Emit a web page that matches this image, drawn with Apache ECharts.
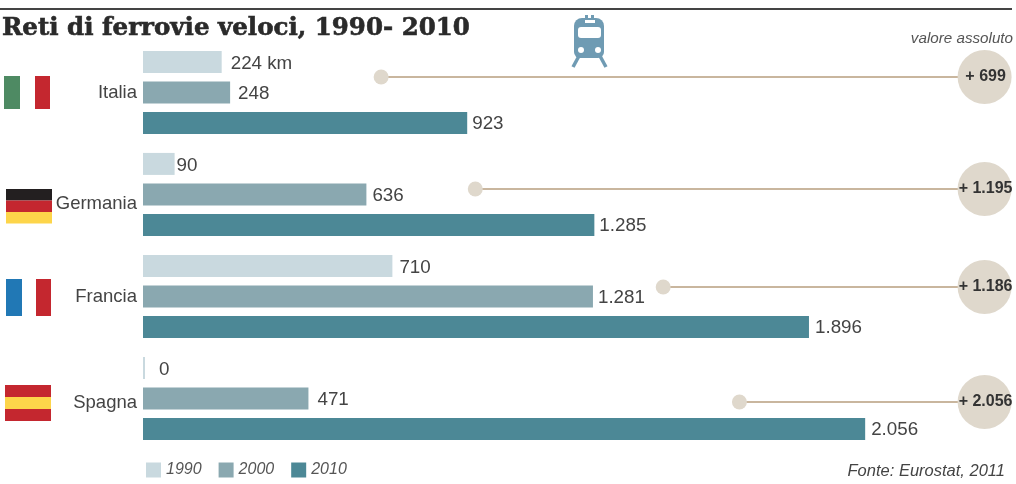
<!DOCTYPE html>
<html>
<head>
<meta charset="utf-8">
<title>Reti di ferrovie veloci, 1990-2010</title>
<script src="https://cdn.jsdelivr.net/npm/echarts@6/dist/echarts.min.js"></script>
<style>
  html, body { margin: 0; padding: 0; background: #fff; }
  #chart { width: 1016px; height: 484px; }
</style>
</head>
<body>
<div id="chart"></div>
<script>
// High-speed rail network length per country, km
const countries = ['Italia', 'Germania', 'Francia', 'Spagna'];
const years = ['1990', '2000', '2010'];
const km1990 = [224, 90, 710, 0];
const km2000 = [248, 636, 1281, 471];
const km2010 = [923, 1285, 1896, 2056];
const gain = [699, 1195, 1186, 2056];

// Where each gain connector starts on the km axis, and the row height it sits at
const connectorStart = [678, 946, 1481, 1698];
const connectorRow = [0.348, 1.446, 2.407, 3.534];

const palette = ['#c9d9df', '#8aa8b0', '#4c8896'];
const inkColor = '#444';
const sans = '"Liberation Sans", Arial, sans-serif';
const bubbleAt = 2396;

// Italian thousands separator: 1285 -> 1.285
const fmt = v => String(v).replace(/\B(?=(\d{3})+$)/g, '.');

// Space between each bar end and its value, per year then country
const labelGaps = [[9, 2, 7, 14], [8, 6, 5, 9], [5, 5, 6, 6]];
const labelDrop = [2, 1, 1];

const barSeries = [km1990, km2000, km2010].map((values, s) => ({
  name: years[s],
  type: 'bar',
  barWidth: 22,
  barGap: '39%',
  barMinHeight: s === 0 ? 2 : 0,
  itemStyle: { color: palette[s] },
  data: values.map((v, i) => ({
    value: v,
    label: {
      show: true,
      position: 'right',
      distance: labelGaps[s][i],
      offset: [0, labelDrop[s]],
      color: inkColor,
      fontFamily: sans,
      fontSize: 18.8,
      formatter: () => fmt(v) + (s === 0 && i === 0 ? ' km' : '')
    }
  }))
}));

// Connector from the start dot to the bubble holding the total gain
const gainSeries = {
  type: 'custom',
  xAxisIndex: 0,
  yAxisIndex: 1,
  data: countries.map((c, i) => [connectorStart[i], bubbleAt, connectorRow[i], gain[i]]),
  encode: { x: [0, 1], y: 2 },
  silent: true,
  renderItem(params, api) {
    const from = api.coord([api.value(0), api.value(2)]);
    const to = api.coord([api.value(1), api.value(2)]);
    return {
      type: 'group',
      children: [
        { type: 'line', shape: { x1: from[0], y1: from[1], x2: to[0], y2: to[1] },
          style: { stroke: '#c9b69e', lineWidth: 2 } },
        { type: 'circle', shape: { cx: from[0], cy: from[1], r: 7.5 }, style: { fill: '#dfd8cc' } },
        { type: 'circle', shape: { cx: to[0], cy: to[1], r: 27 }, style: { fill: '#dfd8cc' } },
        { type: 'text', style: {
            x: to[0] + 1, y: to[1], text: '+ ' + fmt(api.value(3)),
            align: 'center', verticalAlign: 'middle',
            font: 'bold 16px ' + sans, fill: '#333'
        } }
      ]
    };
  }
};

const rect = (x, y, width, height, fill) => ({
  type: 'rect', shape: { x, y, width, height }, style: { fill }, silent: true
});
const trainBlue = '#6f9bb3';
const trainLeg = (x1, x2) => ({
  type: 'line', silent: true, shape: { x1, y1: 56, x2, y2: 67 },
  style: { stroke: trainBlue, lineWidth: 3.5 }
});

const chart = echarts.init(document.getElementById('chart'), null, { renderer: 'canvas' });
chart.setOption({
  animation: false,
  backgroundColor: '#fff',
  title: {
    text: 'Reti di ferrovie veloci, 1990- 2010',
    left: 2, top: 16, padding: 0,
    textStyle: {
      fontFamily: '"DejaVu Serif", serif', fontWeight: 'bold', fontSize: 24.5,
      color: '#2a2a2a', textBorderColor: '#2a2a2a', textBorderWidth: 0.6
    }
  },
  legend: {
    data: years,
    left: 141, top: 457,
    itemWidth: 15, itemHeight: 15, itemGap: 17,
    icon: 'rect',
    textStyle: { fontFamily: sans, fontStyle: 'italic', fontSize: 16, color: '#555', padding: [0, 0, 0, 0] },
    selectedMode: false
  },
  grid: { left: 143, right: 30, top: 41.5, height: 408 },
  xAxis: { type: 'value', min: 0, max: 2400, show: false },
  yAxis: [
    {
      type: 'category',
      data: countries,
      inverse: true,
      axisLine: { show: false },
      axisTick: { show: false },
      axisLabel: {
        margin: 6,
        formatter: name => '{' + (name === 'Germania' ? 'low' : name === 'Spagna' ? 'mid' : 'base') + '|' + name + '}',
        rich: {
          base: { fontFamily: sans, fontSize: 18.5, color: inkColor },
          mid: { fontFamily: sans, fontSize: 18.5, color: inkColor, padding: [8, 0, 0, 0] },
          low: { fontFamily: sans, fontSize: 18.5, color: inkColor, padding: [18, 0, 0, 0] }
        }
      }
    },
    { type: 'value', min: 0, max: 4, inverse: true, show: false }
  ],
  graphic: [
    // Top rule
    rect(0, 8, 1012, 2, '#444'),
    // Corner notes
    { type: 'text', silent: true, style: { x: 1013, y: 38.5, text: 'valore assoluto', align: 'right', verticalAlign: 'middle',
        font: 'italic 15.2px ' + sans, fill: '#555' } },
    { type: 'text', silent: true, style: { x: 1005, y: 471, text: 'Fonte: Eurostat, 2011', align: 'right', verticalAlign: 'middle',
        font: 'italic 16.5px ' + sans, fill: '#444' } },
    // Flags
    rect(4, 76, 16, 33, '#4e8a63'), rect(35, 76, 15, 33, '#c4272f'),
    rect(6, 189, 46, 11.5, '#231f20'), rect(6, 200.5, 46, 11.5, '#c4272f'), rect(6, 212, 46, 11.5, '#fdd54a'),
    rect(6, 279, 16, 37, '#2178b5'), rect(36, 279, 15, 37, '#c4272f'),
    rect(5, 385, 46, 12, '#c4272f'), rect(5, 397, 46, 12, '#fdd54a'), rect(5, 409, 46, 12, '#c4272f'),
    // Train icon
    rect(585, 15, 3, 4, trainBlue), rect(591, 15, 3, 4, trainBlue),
    { type: 'rect', silent: true, shape: { x: 574, y: 18, width: 30, height: 40, r: [8, 8, 6, 6] }, style: { fill: trainBlue } },
    rect(585, 20, 10, 3, '#fff'),
    { type: 'rect', silent: true, shape: { x: 578, y: 27, width: 23, height: 11, r: 3 }, style: { fill: '#fff' } },
    { type: 'circle', silent: true, shape: { cx: 581, cy: 50, r: 3 }, style: { fill: '#fff' } },
    { type: 'circle', silent: true, shape: { cx: 598, cy: 50, r: 3 }, style: { fill: '#fff' } },
    trainLeg(579, 573), trainLeg(600, 606)
  ],
  series: [...barSeries, gainSeries]
});
</script>
</body>
</html>
